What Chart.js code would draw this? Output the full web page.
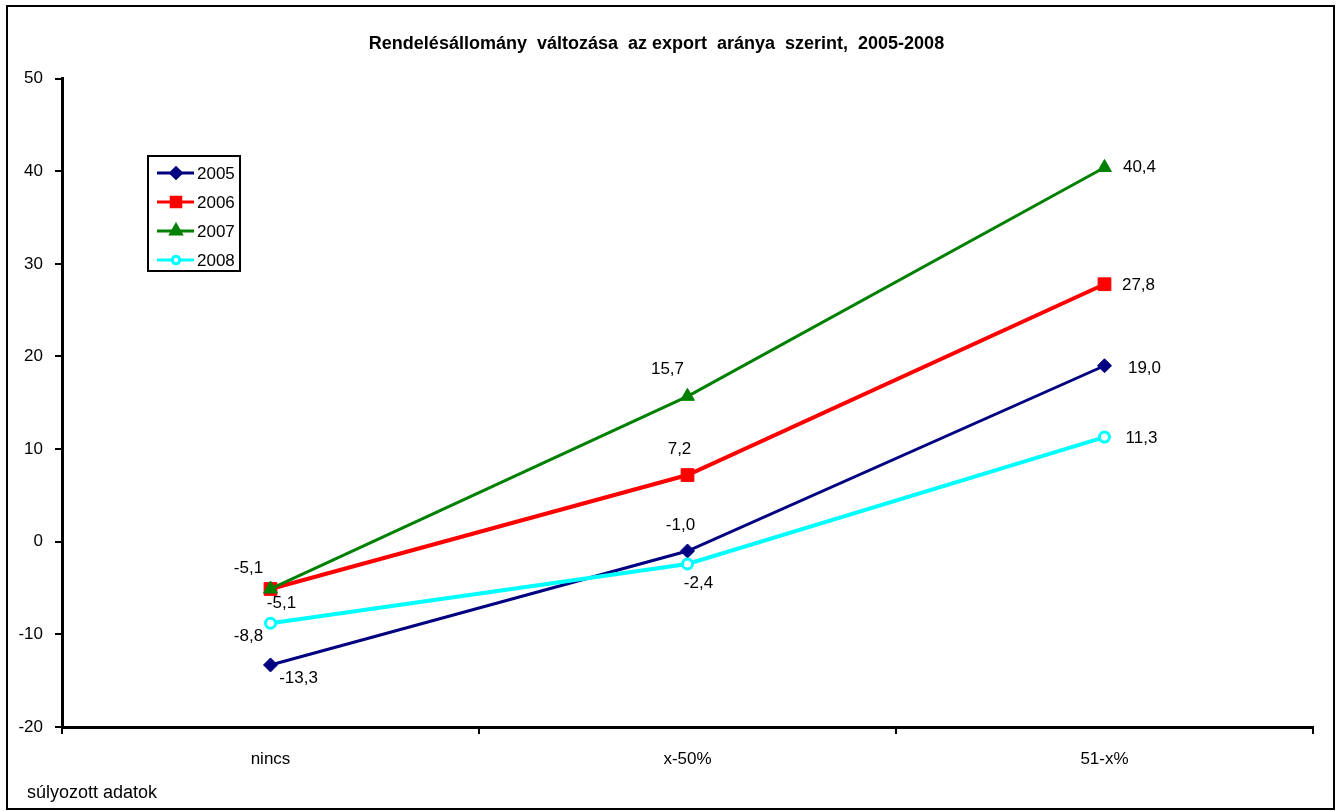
<!DOCTYPE html>
<html>
<head>
<meta charset="utf-8">
<script src="https://cdn.jsdelivr.net/npm/chart.js@4.4.1/dist/chart.umd.min.js"></script>
<style>
  html, body { margin: 0; padding: 0; background: #fff; }
  canvas { display: block; }
</style>
</head>
<body>
<canvas id="chart" width="1337" height="811"></canvas>
<script>
const categories = ['nincs', 'x-50%', '51-x%'];
const years = ['2005', '2006', '2007', '2008'];
const v2005 = [-13.3, -1.0, 19.0];
const v2006 = [-5.1, 7.2, 27.8];
const v2007 = [-5.1, 15.7, 40.4];
const v2008 = [-8.8, -2.4, 11.3];

const FONT = '"Liberation Sans", Arial, sans-serif';

// label offsets (px) from each point, per series
const labelOffsets = [
  [[28, 13], [-7, -26], [40, 3]],
  [[11, 14], [-8, -26], [34, 1]],
  [[-22, -21], [-20, -27], [35, 0]],
  [[-22, 13], [11, 19], [37, 1]]
];

const extras = {
  id: 'extras',
  afterDatasetsDraw(chart) {
    const ctx = chart.ctx;
    ctx.save();
    // value labels
    ctx.font = '17px ' + FONT;
    ctx.fillStyle = '#000';
    ctx.textAlign = 'center';
    ctx.textBaseline = 'middle';
    chart.data.datasets.forEach((ds, di) => {
      const meta = chart.getDatasetMeta(di);
      meta.data.forEach((pt, i) => {
        const off = labelOffsets[di][i];
        const txt = ds.data[i].toFixed(1).replace('.', ',');
        ctx.fillText(txt, pt.x + off[0], pt.y + off[1]);
      });
    });

    // legend box
    ctx.fillStyle = '#fff';
    ctx.fillRect(148, 156, 92, 115);
    ctx.lineWidth = 2;
    ctx.strokeStyle = '#000';
    ctx.strokeRect(148, 156, 92, 115);
    ctx.textAlign = 'left';
    chart.data.datasets.forEach((ds, di) => {
      const y = 173 + di * 29;
      ctx.strokeStyle = ds.borderColor;
      ctx.lineWidth = 3;
      ctx.beginPath();
      ctx.moveTo(157, y);
      ctx.lineTo(194, y);
      ctx.stroke();
      ctx.fillStyle = ds.pointBackgroundColor;
      ctx.strokeStyle = ds.borderColor;
      Chart.helpers.drawPoint(ctx, {
        pointStyle: ds.pointStyle,
        radius: ds.pointRadius * 0.75,
        borderWidth: ds.pointBorderWidth,
        rotation: 0
      }, 176, y);
      ctx.fillStyle = '#000';
      ctx.fillText(ds.label, 197, y + 1);
    });

    // footer note
    ctx.font = '18px ' + FONT;
    ctx.fillText('súlyozott adatok', 27, 793);

    // outer frame
    ctx.lineWidth = 2;
    ctx.strokeStyle = '#000';
    ctx.strokeRect(7, 6, 1327, 803);
    ctx.restore();
  }
};

new Chart(document.getElementById('chart'), {
  type: 'line',
  data: {
    labels: categories,
    datasets: [
      {
        label: years[0],
        data: v2005,
        borderColor: '#000080',
        backgroundColor: '#000080',
        pointBackgroundColor: '#000080',
        pointStyle: 'rectRot',
        pointRadius: 7,
        pointBorderWidth: 1,
        borderWidth: 3,
        order: 3
      },
      {
        label: years[1],
        data: v2006,
        borderColor: '#ff0000',
        backgroundColor: '#ff0000',
        pointBackgroundColor: '#ff0000',
        pointStyle: 'rect',
        pointRadius: 9,
        pointBorderWidth: 1,
        borderWidth: 4,
        order: 2
      },
      {
        label: years[2],
        data: v2007,
        borderColor: '#008000',
        backgroundColor: '#008000',
        pointBackgroundColor: '#008000',
        pointStyle: 'triangle',
        pointRadius: 8,
        pointBorderWidth: 1,
        borderWidth: 3,
        order: 1
      },
      {
        label: years[3],
        data: v2008,
        borderColor: '#00ffff',
        backgroundColor: '#ffffff',
        pointBackgroundColor: '#ffffff',
        pointStyle: 'circle',
        pointRadius: 5,
        pointBorderWidth: 3,
        borderWidth: 4,
        order: 0
      }
    ]
  },
  options: {
    responsive: false,
    animation: false,
    layout: { padding: { left: 0, right: 24, top: 0, bottom: 0 } },
    elements: { line: { tension: 0 } },
    plugins: {
      legend: { display: false },
      tooltip: { enabled: false },
      title: {
        display: true,
        text: 'Rendelésállomány  változása  az export  aránya  szerint,  2005-2008',
        color: '#000',
        font: { family: FONT, size: 18, weight: 'bold' },
        padding: { top: 33, bottom: 24 }
      }
    },
    scales: {
      x: {
        type: 'category',
        offset: true,
        afterFit(scale) { scale.height = 84; },
        grid: { offset: true, drawOnChartArea: false, drawTicks: true, tickLength: 7, color: '#000', lineWidth: 2 },
        border: { color: '#000', width: 3 },
        ticks: { color: '#000', font: { family: FONT, size: 17 }, padding: 15 }
      },
      y: {
        min: -20,
        max: 50,
        afterFit(scale) { scale.width = 62; },
        grid: { drawOnChartArea: false, drawTicks: true, tickLength: 7, color: '#000', lineWidth: 2 },
        border: { color: '#000', width: 3 },
        ticks: { stepSize: 10, color: '#000', font: { family: FONT, size: 17 }, padding: 12 }
      }
    }
  },
  plugins: [extras]
});
</script>
</body>
</html>
